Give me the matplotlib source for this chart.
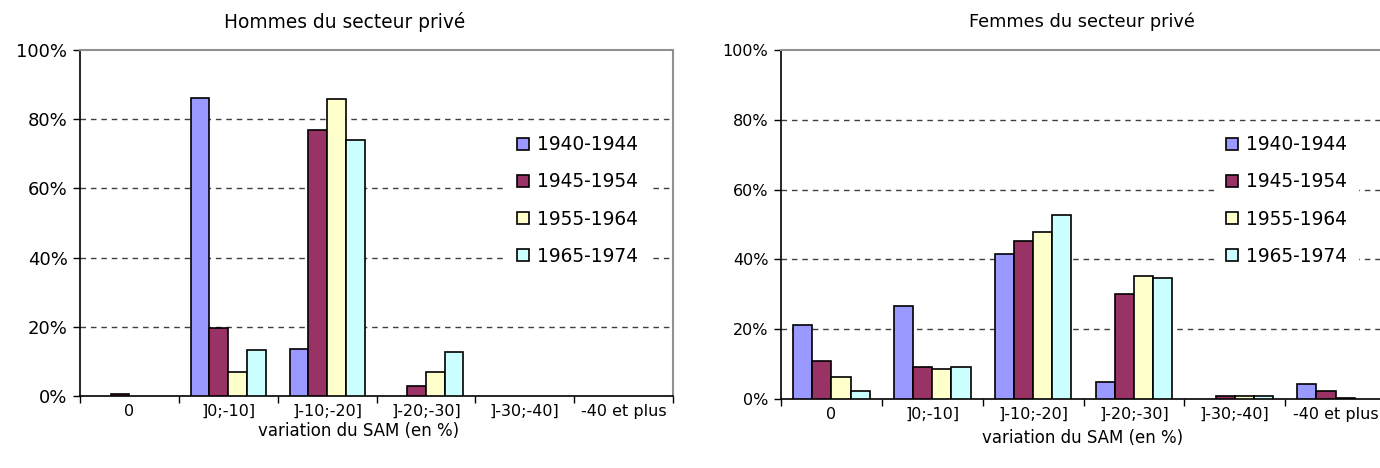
import matplotlib
matplotlib.use("Agg")
import matplotlib.pyplot as plt
import numpy as np
from matplotlib.patches import Patch
from matplotlib.ticker import FuncFormatter, FixedLocator

plt.rcParams['font.family'] = ['DejaVu Sans']

categories = ["0", "]0;-10]", "]-10;-20]", "]-20;-30]", "]-30;-40]", "-40 et plus"]
cohorts = ["1940-1944", "1945-1954", "1955-1964", "1965-1974"]
colors = ["#9999FF", "#993366", "#FFFFCC", "#CCFFFF"]

# Share of workers by SAM variation class (%), one list per cohort
hommes_1940 = [0.0, 86.0, 13.7, 0.0, 0.0, 0.0]
hommes_1945 = [0.5, 19.7, 77.0, 3.0, 0.0, 0.0]
hommes_1955 = [0.0, 6.9, 85.8, 6.9, 0.0, 0.0]
hommes_1965 = [0.0, 13.2, 74.0, 12.7, 0.0, 0.0]

femmes_1940 = [21.1, 26.6, 41.5, 4.9, 0.0, 4.3]
femmes_1945 = [11.0, 9.1, 45.4, 30.0, 0.9, 2.4]
femmes_1955 = [6.2, 8.7, 47.8, 35.2, 0.8, 0.3]
femmes_1965 = [2.4, 9.1, 52.7, 34.8, 0.8, 0.0]

W, H = 1380, 468
fig = plt.figure(figsize=(W / 100, H / 100), dpi=100)


def px_axes(x0, x1, ytop, ybot):
    return fig.add_axes([x0 / W, 1 - ybot / H, (x1 - x0) / W, (ybot - ytop) / H])


def draw_panel(ax, series, ytick_size, xtick_size, legend_anchor):
    n = len(categories)
    x = np.arange(n)
    bw = 0.19
    offsets = (np.arange(len(series)) - (len(series) - 1) / 2) * bw
    for vals, off, col in zip(series, offsets, colors):
        vals = np.array(vals, dtype=float)
        keep = vals > 0  # empty classes get no bar at all
        ax.bar(x[keep] + off, vals[keep] / 100.0, width=bw, color=col,
               edgecolor="black", linewidth=1.2, zorder=3)
    ax.set_xlim(-0.5, n - 0.5)
    ax.set_ylim(0, 1)

    # dashed horizontal gridlines
    for g in [0.2, 0.4, 0.6, 0.8]:
        ax.axhline(g, color="#404040", linewidth=1.0, linestyle=(0, (4, 3.5)), zorder=1)

    ax.yaxis.set_major_locator(FixedLocator([0, 0.2, 0.4, 0.6, 0.8, 1.0]))
    ax.yaxis.set_major_formatter(FuncFormatter(lambda v, p: f"{int(round(v * 100))}%"))
    ax.tick_params(axis="y", length=5, width=1, direction="out", labelsize=ytick_size, pad=4)

    ax.set_xticks(x)
    ax.set_xticklabels(categories)
    ax.set_xticks(np.arange(n + 1) - 0.5, minor=True)
    ax.tick_params(axis="x", which="major", length=0, labelsize=xtick_size, pad=5.5)
    ax.tick_params(axis="x", which="minor", length=5, width=1, direction="out")

    for side in ["top", "right"]:
        ax.spines[side].set_color("#909090")
        ax.spines[side].set_linewidth(1.5)
    ax.spines["left"].set_color("black")
    ax.spines["bottom"].set_color("black")
    ax.spines["left"].set_linewidth(1.2)
    ax.spines["bottom"].set_linewidth(1.2)

    handles = [Patch(facecolor=c, edgecolor="black", linewidth=1.2) for c in colors]
    leg = ax.legend(handles, cohorts, loc="upper left",
                    bbox_to_anchor=(legend_anchor[0] / W, 1 - legend_anchor[1] / H),
                    bbox_transform=fig.transFigure,
                    frameon=True, fancybox=False, framealpha=1.0,
                    fontsize=13.4, handlelength=0.62, handleheight=0.62,
                    handletextpad=0.45, labelspacing=0.98, borderpad=0.6,
                    borderaxespad=0)
    leg.get_frame().set_edgecolor("white")
    leg.get_frame().set_facecolor("white")
    leg.set_zorder(4)


ax1 = px_axes(80, 673, 50, 396)
draw_panel(ax1, [hommes_1940, hommes_1945, hommes_1955, hommes_1965],
           13, 11.5, (506, 124))

ax2 = px_axes(781, 1386, 50, 399)
draw_panel(ax2, [femmes_1940, femmes_1945, femmes_1955, femmes_1965],
           11.5, 11.5, (1215, 124))

fig.text(345 / W, 1 - 22 / H, "Hommes du secteur privé", ha="center", va="center", fontsize=13.4)
fig.text(1082 / W, 1 - 22 / H, "Femmes du secteur privé", ha="center", va="center", fontsize=12.8)
fig.text(359 / W, 1 - 431 / H, "variation du SAM (en %)", ha="center", va="center", fontsize=12)
fig.text(1083 / W, 1 - 438 / H, "variation du SAM (en %)", ha="center", va="center", fontsize=12)

fig.savefig("out.png", dpi=100, facecolor="white")
